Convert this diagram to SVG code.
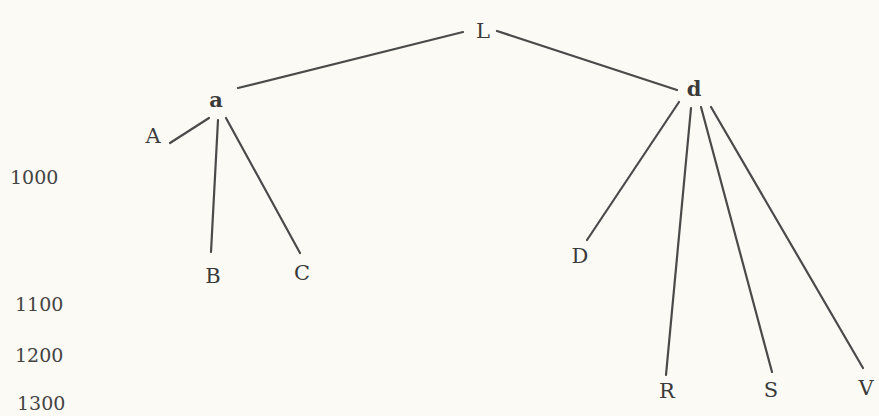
<svg xmlns="http://www.w3.org/2000/svg" width="879" height="416" viewBox="0 0 879 416">
<style>
.lbl{font-family:"DejaVu Serif","Liberation Serif",serif;font-size:21px;fill:#3a3a3a;text-anchor:middle}
.bold{font-weight:bold}
.num{font-family:"DejaVu Serif","Liberation Serif",serif;font-size:19px;fill:#444;}
.edge{stroke:#4a4a4a;stroke-width:2.2;stroke-linecap:round;fill:none}
</style>
<rect width="879" height="416" fill="#fbfaf4"/>
<g id="connectors">
<line class="edge" x1="463" y1="32" x2="238" y2="88"/>
<line class="edge" x1="497" y1="31" x2="677" y2="90"/>
<line class="edge" x1="209" y1="118" x2="170" y2="143"/>
<line class="edge" x1="218" y1="120" x2="211" y2="252"/>
<line class="edge" x1="226" y1="118" x2="300" y2="253"/>
<line class="edge" x1="679" y1="102" x2="587" y2="240"/>
<line class="edge" x1="691" y1="108" x2="666" y2="375"/>
<line class="edge" x1="701" y1="107" x2="772" y2="372"/>
<line class="edge" x1="711" y1="107" x2="863" y2="368"/>
</g>
<g id="node-L"><text class="lbl" x="483" y="38">L</text></g>
<g id="node-a"><text class="lbl bold" x="216" y="107">a</text></g>
<g id="node-d"><text class="lbl bold" x="694" y="96">d</text></g>
<g id="node-A"><text class="lbl" x="153" y="143">A</text></g>
<g id="node-B"><text class="lbl" x="213" y="283">B</text></g>
<g id="node-C"><text class="lbl" x="302" y="280">C</text></g>
<g id="node-D"><text class="lbl" x="580" y="263">D</text></g>
<g id="node-R"><text class="lbl" x="667" y="398">R</text></g>
<g id="node-S"><text class="lbl" x="771" y="397">S</text></g>
<g id="node-V"><text class="lbl" x="866" y="395">V</text></g>
<g id="scale">
<text class="num" x="10" y="184">1000</text>
<text class="num" x="15" y="311">1100</text>
<text class="num" x="15" y="362">1200</text>
<text class="num" x="17" y="410">1300</text>
</g>
</svg>
